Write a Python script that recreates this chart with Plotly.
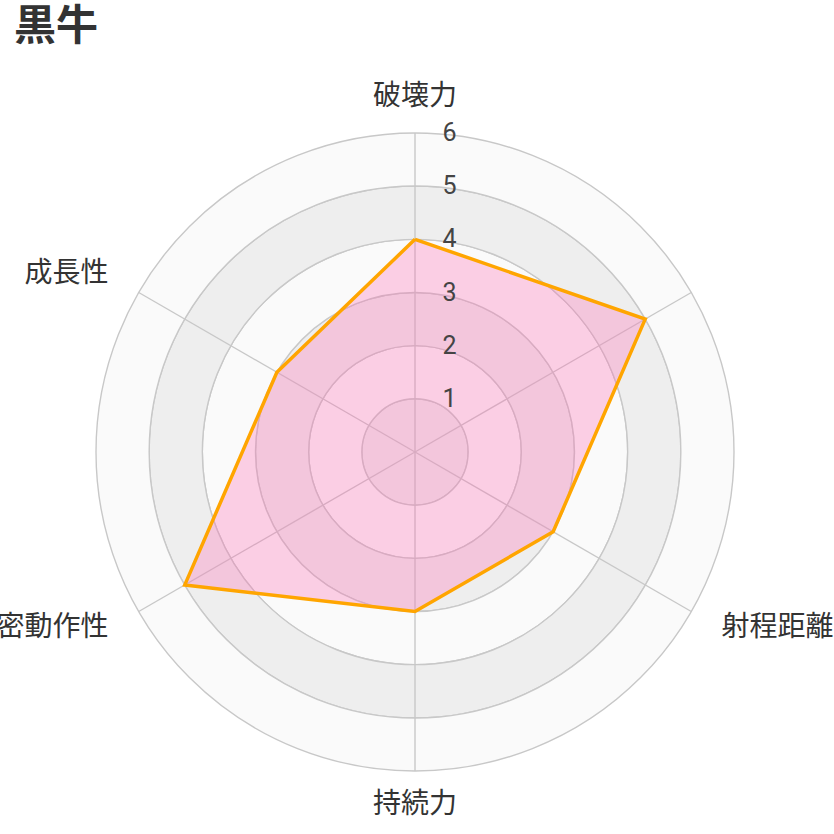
import plotly.graph_objects as go

title_text = "黒牛"
categories = ["破壊力", "", "射程距離", "持続力", "精密動作性", "成長性"]
values = [4, 5, 3, 3, 5, 3]
ring_levels = [1, 2, 3, 4, 5, 6]
ring_colors = ["#eeeeee", "#fafafa", "#eeeeee", "#fafafa", "#eeeeee", "#fafafa"]
label_positions = ["middle center", "middle right", "middle right",
                   "middle center", "middle left", "middle left"]

n = len(categories)
angles = [i * 360 / n for i in range(n)]
r_max = max(ring_levels)
label_r = r_max * 354 / 319

fig = go.Figure()

# alternating background bands
for i, lvl in enumerate(ring_levels):
    fig.add_trace(go.Barpolar(
        r=[1], base=[lvl - 1], theta=[0], width=[360],
        marker=dict(color=ring_colors[i], line=dict(color="#c8c8c8", width=1.4)),
        hoverinfo="skip", showlegend=False,
    ))

# spokes
for a in angles:
    fig.add_trace(go.Scatterpolar(
        r=[0, r_max], theta=[a, a], mode="lines",
        line=dict(color="#c8c8c8", width=1.4),
        hoverinfo="skip", showlegend=False,
    ))

# data polygon
fig.add_trace(go.Scatterpolar(
    r=values + [values[0]], theta=angles + [angles[0]],
    mode="lines", fill="toself",
    fillcolor="rgba(255,105,180,0.3)",
    line=dict(color="#ffa500", width=3.5),
    name=title_text, showlegend=False,
))

# indicator names
fig.add_trace(go.Scatterpolar(
    r=[label_r] * n, theta=angles, mode="text",
    text=categories, textposition=label_positions,
    textfont=dict(size=28, color="#333333", family="Noto Sans CJK JP"),
    cliponaxis=False, hoverinfo="skip", showlegend=False,
))

# polar area sized so that r=6 sits at 319 px radius around (415, 452)
half = 354
fig.update_layout(
    width=834, height=834,
    margin=dict(l=0, r=0, t=0, b=0),
    paper_bgcolor="white",
    font=dict(family="Noto Sans CJK JP, sans-serif", color="#333333"),
    title=dict(text="<b>" + title_text + "</b>", x=14 / 834, xanchor="left",
               y=1 - 25 / 834, yanchor="middle",
               font=dict(size=42, color="#333333", family="Noto Sans CJK JP")),
    polar=dict(
        domain=dict(x=[(415 - half) / 834, (415 + half) / 834],
                    y=[1 - (452 + half) / 834, 1 - (452 - half) / 834]),
        bgcolor="rgba(0,0,0,0)",
        barmode="overlay",
        hole=0,
        radialaxis=dict(
            range=[0, label_r], tickvals=ring_levels, ticktext=[str(v) for v in ring_levels],
            showgrid=False, showline=False, angle=90, tickangle=90,
            ticks="outside", ticklen=22, tickcolor="rgba(0,0,0,0)",
            tickfont=dict(size=25, color="#444444", family="Roboto, sans-serif"),
            layer="above traces",
        ),
        angularaxis=dict(
            type="linear", thetaunit="degrees",
            direction="clockwise", rotation=90,
            tickvals=angles, showticklabels=False,
            showgrid=False, showline=False, ticks="",
        ),
    ),
)

fig.write_html("out.html")
